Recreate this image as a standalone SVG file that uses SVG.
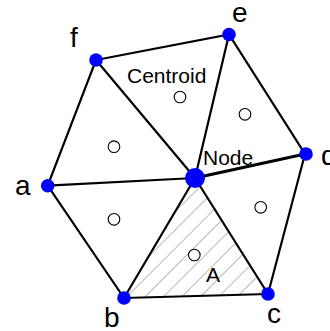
<svg xmlns="http://www.w3.org/2000/svg" width="330" height="331" viewBox="0 0 330 331">
<style>
.edge{stroke:#000;stroke-width:2.2;fill:none;stroke-linecap:round}
.vert{fill:#0000ff}
.cen{fill:#fff;stroke:#000;stroke-width:1.1}
.lbl{font-family:"Liberation Sans",Arial,sans-serif;font-size:28px;fill:#000}
.txt{font-family:"Liberation Sans",Arial,sans-serif;font-size:21px;fill:#000}
</style>
<defs>
<pattern id="hatch" patternUnits="userSpaceOnUse" width="13" height="13" patternTransform="rotate(-45)">
<line x1="0" y1="0.5" x2="13" y2="0.5" stroke="#b8b8b8" stroke-width="1"/>
</pattern>
</defs>
<rect width="330" height="331" fill="#fff"/>
<g id="areaA">
<polygon points="195,178 124,298 268,294" fill="url(#hatch)"/>
</g>
<g id="connectors">
<polyline class="edge" points="96,60 229,34.5 305,154 268,294 124,298 47.7,185.7 96,60"/>
<line class="edge" x1="195" y1="178" x2="47.7" y2="185.7"/>
<line class="edge" x1="195" y1="178" x2="124" y2="298"/>
<line class="edge" x1="195" y1="178" x2="268" y2="294"/>
<line class="edge" x1="195" y1="178" x2="305" y2="154" style="stroke-width:3"/>
<line class="edge" x1="195" y1="178" x2="229" y2="34.5"/>
<line class="edge" x1="195" y1="178" x2="96" y2="60"/>
</g>
<g id="centroids">
<circle class="cen" cx="180" cy="97" r="5.8"/>
<circle class="cen" cx="245" cy="114.3" r="5.8"/>
<circle class="cen" cx="114" cy="146.7" r="5.8"/>
<circle class="cen" cx="114" cy="219.3" r="5.8"/>
<circle class="cen" cx="260.7" cy="207.3" r="5.8"/>
<circle class="cen" cx="194.3" cy="255" r="5.8"/>
</g>
<g id="node-a"><circle class="vert" cx="47.7" cy="185.7" r="6.8"/><text class="lbl" x="15" y="195">a</text></g>
<g id="node-b"><circle class="vert" cx="124" cy="298" r="6.8"/><text class="lbl" x="104" y="327">b</text></g>
<g id="node-c"><circle class="vert" cx="268" cy="294" r="6.8"/><text class="lbl" x="267" y="323">c</text></g>
<g id="node-d"><circle class="vert" cx="306" cy="154" r="6.8"/><text class="lbl" x="321" y="165">d</text></g>
<g id="node-e"><circle class="vert" cx="229" cy="34.5" r="6.8"/><text class="lbl" x="232" y="22">e</text></g>
<g id="node-f"><circle class="vert" cx="96" cy="60" r="6.8"/><text class="lbl" x="70" y="47">f</text></g>
<g id="node-center"><circle class="vert" cx="195" cy="178" r="10"/><text class="txt" x="203" y="165">Node</text></g>
<g id="labels">
<text class="txt" x="127" y="83">Centroid</text>
<text class="txt" x="206" y="282">A</text>
</g>
</svg>
